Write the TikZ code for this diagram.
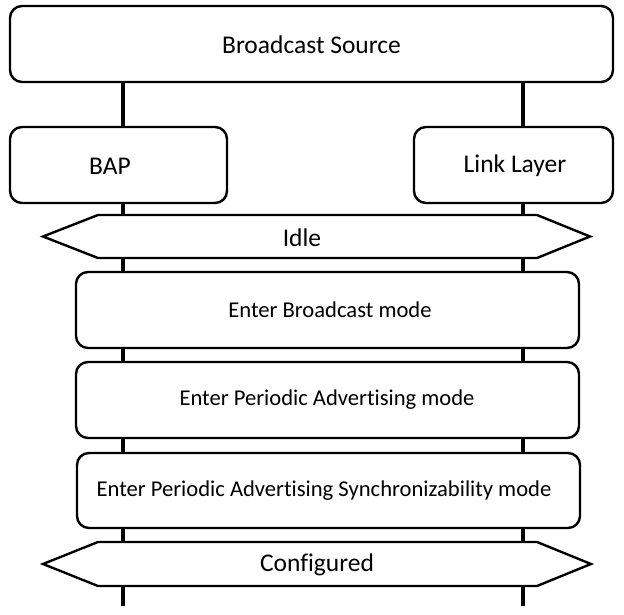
\documentclass[tikz,border=0pt]{standalone}
\usepackage{fontspec}
\setmainfont[Ligatures=NoCommon]{Carlito}
\begin{document}
\begin{tikzpicture}[x=1pt,y=-1pt,
  box/.style={draw=black,line width=2.4pt,rounded corners=12pt,fill=white,inner sep=0pt},
  hexa/.style={draw=black,line width=2.4pt,fill=white,line join=miter},
  life/.style={line width=3.5pt,black},
  bigtxt/.style={font=\fontsize{25.5}{28}\selectfont},
  smalltxt/.style={font=\fontsize{22.6}{25}\selectfont}]
\useasboundingbox (0,0) rectangle (624,615);
% lifeline ends
\coordinate (endL) at (123,606);
\coordinate (endR) at (523,606);
\coordinate (topL) at (123,82);
\coordinate (topR) at (523,82);
\draw[life] (topL) -- (endL);
\draw[life] (topR) -- (endR);
% boxes
\draw[box] (10,6) rectangle (613,82);
\node[bigtxt] (src) at (311.5,45) {Broadcast Source};
\draw[box] (10,127) rectangle (227,203);
\node[bigtxt] (bap) at (110,166) {BAP};
\draw[box] (414,127) rectangle (613,203);
\node[bigtxt] (ll) at (515,166) {Link Layer};
% Idle
\draw[hexa] (43,236.5) -- (98,215) -- (537,215) -- (590,236.5) -- (537,258) -- (98,258) -- cycle;
\node[bigtxt] (idle) at (302,238) {Idle};
% mode boxes
\draw[box] (76,272) rectangle (579,348);
\node[smalltxt] (m1) at (330,310) {Enter Broadcast mode};
\draw[box] (76,362) rectangle (579,438);
\node[smalltxt] (m2) at (327,400) {Enter Periodic Advertising mode};
\draw[box] (77,453) rectangle (580,528);
\node[smalltxt] (m3) at (324,491) {Enter Periodic Advertising Synchronizability mode};
% Configured
\draw[hexa] (43,564) -- (98,542) -- (537,542) -- (591,564) -- (537,586) -- (98,586) -- cycle;
\node[bigtxt] (conf) at (317,565) {Configured};
\end{tikzpicture}
\end{document}
